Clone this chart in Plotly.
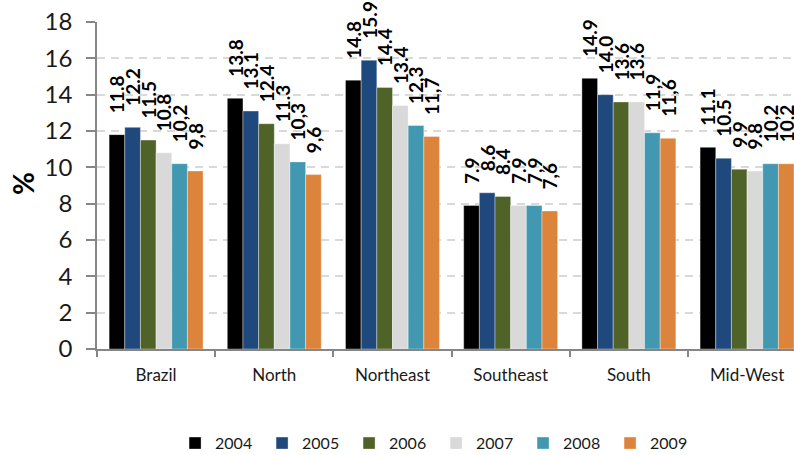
import plotly.graph_objects as go

regions = ["Brazil", "North", "Northeast", "Southeast", "South", "Mid-West"]
years = ["2004", "2005", "2006", "2007", "2008", "2009"]
values = {
    "2004": [11.8, 13.8, 14.8, 7.9, 14.9, 11.1],
    "2005": [12.2, 13.1, 15.9, 8.6, 14.0, 10.5],
    "2006": [11.5, 12.4, 14.4, 8.4, 13.6, 9.9],
    "2007": [10.8, 11.3, 13.4, 7.9, 13.6, 9.8],
    "2008": [10.2, 10.3, 12.3, 7.9, 11.9, 10.2],
    "2009": [9.8, 9.6, 11.7, 7.6, 11.6, 10.2],
}
labels = {
    "2004": ["11.8", "13.8", "14.8", "7.9", "14.9", "11.1"],
    "2005": ["12.2", "13.1", "15.9", "8.6", "14.0", "10.5"],
    "2006": ["11.5", "12.4", "14.4", "8.4", "13.6", "9.9"],
    "2007": ["10.8", "11.3", "13.4", "7.9", "13.6", "9.8"],
    "2008": ["10,2", "10,3", "12,3", "7,9", "11,9", "10,2"],
    "2009": ["9,8", "9,6", "11,7", "7,6", "11,6", "10,2"],
}
colors = ["#000000", "#1F497D", "#4F6228", "#D9D9D9", "#4198B0", "#DD843C"]

FONT = "Lato"
pad = "\u00a0" * 4

fig = go.Figure()
for yr, col in zip(years, colors):
    fig.add_trace(go.Bar(
        name=yr, x=regions, y=values[yr],
        marker=dict(color=col, line=dict(width=0.6, color="rgba(255,255,255,0.6)")),
        text=[pad + t for t in labels[yr]],
        textposition="outside", textangle=-90,
        textfont=dict(family=FONT, size=19, color="#000000", weight="bold"),
        constraintext="none", cliponaxis=False,
    ))

fig.update_layout(
    width=794, height=455,
    margin=dict(l=97, r=0, t=22, b=106, autoexpand=False),
    paper_bgcolor="white", plot_bgcolor="white",
    barmode="group", bargap=0.205, bargroupgap=0,
    font=dict(family=FONT, color="#1a1a1a"),
    showlegend=True,
    legend=dict(orientation="h", x=0.112, xanchor="left",
                yref="container", y=0.026, yanchor="middle",
                font=dict(family=FONT, size=16, color="#1a1a1a"),
                entrywidth=42, traceorder="normal"),
    xaxis=dict(range=[-0.5, 5.397], showline=True, linecolor="#868686", linewidth=1.5,
               ticks="outside", tickson="boundaries", ticklen=6, tickcolor="#868686",
               tickwidth=1.5, tickfont=dict(family=FONT, size=17, color="#1a1a1a"),
               ticklabelstandoff=10, showgrid=False),
    yaxis=dict(range=[0, 18], dtick=2, showline=True, linecolor="#868686", linewidth=1.5,
               ticks="outside", ticklen=9, tickcolor="#868686", tickwidth=1.5,
               tickfont=dict(family=FONT, size=24, color="#1a1a1a"),
               ticklabelstandoff=9,
               showgrid=True, gridcolor="#D9D9D9", gridwidth=1.5, griddash="8px,6px",
               zeroline=False),
    annotations=[dict(text="<b>%</b>", xref="paper", yref="paper", x=-0.106, y=0.505,
                      xanchor="center", yanchor="middle",
                      textangle=-90, showarrow=False,
                      font=dict(family=FONT, size=28, color="#000000"))],
)

fig.write_html("out.html")
